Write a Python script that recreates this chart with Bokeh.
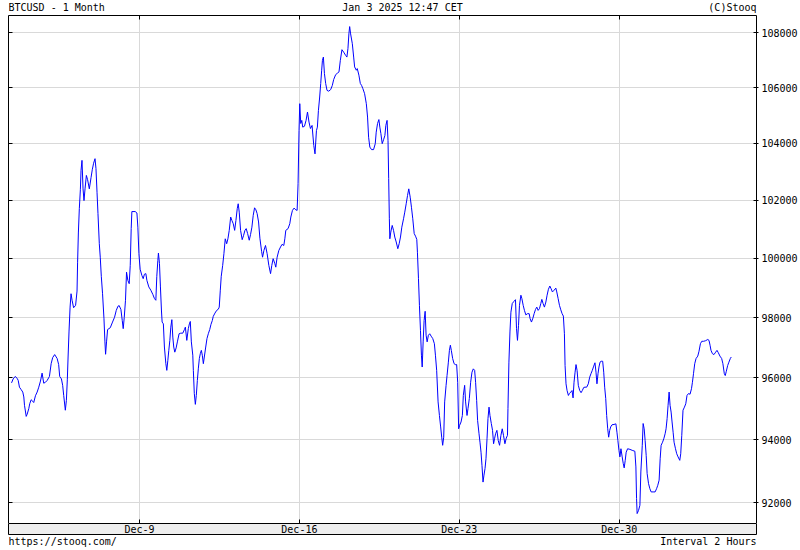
from bokeh.plotting import figure
from bokeh.layouts import column
from bokeh.core.properties import value
from bokeh.models import (Range1d, FixedTicker, LinearAxis, LogAxis, NumeralTickFormatter,
                          Label, LabelSet, ColumnDataSource)
from bokeh.embed import file_html
from bokeh.resources import INLINE

# ---------------- texts ----------------
symbol_title = "BTCUSD - 1 Month"
stamp = "Jan 3 2025 12:47 CET"
credit = "(C)Stooq"
source = "https://stooq.com/"
interval = "Interval 2 Hours"

# ---------------- ticks ----------------
tick_hours = [0, 168, 336, 504]          # hours since Dec 9 00:00
tick_labels = ["Dec-9", "Dec-16", "Dec-23", "Dec-30"]
price_ticks = [92000, 94000, 96000, 98000, 100000, 102000, 104000, 106000, 108000]

# ---------------- data (hours since Dec 9 00:00, BTCUSD) ----------------
hours = [
    -134.4, -132.7, -130.6, -128.5, -127.4, -126.1, -124.3, -122.6, -121.5, -120.8,
    -119.0, -118.0, -116.3, -115.3, -113.8, -112.1, -111.1, -109.3, -107.5, -105.8,
    -104.0, -102.3, -100.6, -98.8, -97.0, -94.6, -92.8, -91.2, -89.1, -86.5,
    -84.9, -83.8, -82.0, -80.7, -79.6, -77.9, -76.8, -75.8, -75.0, -74.0,
    -72.9, -71.9, -70.8, -69.2, -67.1, -65.6, -65.0, -64.2, -63.2, -62.1,
    -61.4, -60.4, -59.3, -58.3, -57.2, -55.8, -54.5, -52.7, -50.9, -49.6,
    -48.2, -46.7, -45.7, -44.6, -43.6, -42.2, -41.2, -40.1, -38.8, -37.3,
    -36.3, -35.6, -34.6, -33.5, -30.7, -28.3, -26.2, -24.4, -22.6, -21.3,
    -19.5, -18.1, -17.1, -16.0, -14.7, -13.6, -12.2, -10.8, -9.7, -8.7,
    -8.0, -4.5, -2.7, -1.7, -0.6, 0.7, 2.5, 3.9, 5.2, 6.7,
    7.8, 9.8, 11.9, 14.0, 15.7, 17.2, 18.2, 19.3, 19.9, 21.0,
    22.0, 23.1, 23.8, 25.1, 26.2, 27.7, 28.7, 29.8, 30.8, 31.9,
    32.9, 34.0, 35.0, 36.0, 37.1, 38.5, 39.8, 41.6, 43.4, 45.5,
    47.2, 48.2, 49.7, 51.3, 52.4, 53.4, 54.5, 56.0, 56.6, 57.6,
    58.7, 59.7, 60.8, 61.8, 62.9, 63.9, 65.0, 66.0, 67.1, 68.1,
    69.6, 70.9, 72.3, 73.8, 75.1, 76.5, 77.5, 79.3, 81.1, 82.8,
    83.8, 84.9, 85.9, 87.4, 88.7, 90.1, 91.6, 92.9, 94.3, 95.8,
    97.1, 98.5, 100.0, 101.3, 102.7, 103.7, 104.8, 106.2, 107.9, 109.4,
    110.8, 112.1, 113.6, 115.3, 116.7, 118.1, 119.5, 120.9, 122.3, 123.6,
    125.1, 126.5, 128.3, 129.3, 130.7, 132.4, 134.1, 135.9, 137.7, 139.0,
    140.4, 142.2, 143.2, 144.6, 146.4, 148.2, 149.8, 151.6, 152.7, 153.7,
    156.1, 157.9, 159.0, 160.7, 162.4, 164.2, 165.6, 166.6, 167.6, 168.4,
    169.4, 170.5, 171.5, 173.3, 175.0, 176.5, 178.1, 179.6, 181.3, 183.1,
    184.4, 185.9, 186.9, 188.0, 189.3, 190.4, 191.4, 192.2, 193.2, 194.3,
    195.6, 197.0, 198.8, 200.9, 202.6, 204.0, 206.1, 208.2, 209.6, 211.0,
    212.7, 214.5, 216.6, 217.9, 219.0, 220.0, 220.8, 221.8, 223.6, 225.0,
    226.0, 227.8, 228.8, 230.5, 232.0, 233.3, 234.7, 236.5, 238.3, 239.6,
    240.7, 242.0, 243.8, 245.9, 247.7, 248.7, 250.1, 251.5, 252.5, 253.6,
    255.0, 256.4, 257.8, 258.8, 260.1, 261.1, 261.8, 262.5, 263.0, 264.0,
    265.5, 266.9, 268.2, 269.7, 271.4, 272.8, 274.2, 275.6, 277.4, 278.7,
    280.2, 281.6, 282.9, 284.4, 285.7, 287.1, 288.6, 290.0, 291.3, 292.0,
    293.1, 294.1, 295.2, 296.2, 297.0, 298.0, 299.0, 300.1, 301.1, 302.2,
    303.5, 304.9, 306.4, 308.1, 309.8, 310.9, 312.2, 313.7, 315.1, 316.4,
    317.5, 318.5, 319.6, 320.6, 322.1, 323.1, 324.5, 325.6, 326.6, 327.6,
    329.0, 330.5, 331.8, 333.2, 334.3, 335.3, 336.3, 337.8, 339.2, 340.2,
    341.6, 342.6, 344.1, 345.1, 346.5, 347.9, 349.3, 350.7, 352.1, 353.1,
    354.2, 355.2, 356.7, 357.7, 358.8, 359.8, 360.9, 361.9, 363.0, 364.0,
    365.1, 366.1, 367.2, 368.2, 369.6, 370.9, 372.0, 373.0, 374.1, 375.5,
    376.9, 378.3, 379.7, 381.1, 382.4, 383.9, 385.3, 386.6, 387.1, 388.1,
    389.2, 390.2, 391.6, 393.3, 395.0, 396.1, 397.1, 398.2, 399.2, 400.7,
    401.7, 403.1, 404.4, 405.9, 407.6, 409.4, 410.4, 411.8, 413.3, 414.6,
    416.0, 417.4, 418.8, 420.2, 421.6, 422.7, 424.0, 425.4, 426.9, 428.2,
    429.6, 431.1, 432.4, 433.8, 435.6, 437.4, 438.4, 439.8, 441.2, 442.6,
    444.0, 445.3, 446.4, 447.1, 448.1, 449.2, 450.6, 451.6, 453.1, 454.4,
    455.5, 456.5, 457.6, 458.6, 459.7, 461.0, 462.5, 463.9, 465.2, 466.7,
    468.0, 469.8, 471.5, 473.0, 474.3, 475.7, 477.2, 478.5, 479.6, 480.6,
    481.7, 482.7, 483.8, 485.1, 486.6, 487.7, 488.7, 489.8, 490.8, 491.9,
    492.9, 494.0, 495.0, 496.4, 498.5, 500.5, 501.6, 502.6, 503.7, 504.7,
    505.8, 507.1, 508.2, 509.2, 510.3, 511.3, 512.8, 515.2, 517.6, 520.4,
    521.5, 522.2, 522.8, 524.3, 525.7, 526.7, 528.2, 529.1, 530.2, 531.2,
    532.3, 533.3, 534.8, 536.2, 537.5, 539.6, 541.7, 543.2, 544.5, 545.9,
    547.0, 548.0, 549.5, 550.8, 552.2, 553.2, 554.3, 555.3, 556.4, 557.4,
    558.5, 559.5, 560.6, 561.6, 563.1, 564.4, 565.8, 567.6, 568.6, 569.7,
    571.0, 572.5, 573.9, 575.2, 576.7, 578.4, 579.9, 580.9, 582.0, 583.3,
    584.7, 586.5, 587.8, 589.3, 590.7, 592.7, 594.8, 597.0, 598.3, 599.4,
    600.4, 601.9, 603.5, 605.3, 606.7, 608.1, 609.8, 611.6, 612.9, 614.4,
    615.4, 616.5, 617.9, 619.2, 620.7, 621.7,
]
prices = [
    95840, 95970, 96050, 95990, 95920, 95700, 95620, 95540, 95380, 95110,
    94750, 94820, 95000, 95160, 95290, 95240, 95200, 95420, 95540, 95700,
    95900, 96160, 95830, 95860, 95920, 96050, 96470, 96670, 96770, 96640,
    96440, 96050, 95970, 95760, 95430, 94950, 95270, 95940, 96690, 97550,
    98350, 98800, 98580, 98330, 98410, 98890, 99870, 100870, 101710, 102370,
    103050, 103400, 102400, 101990, 102400, 102870, 102720, 102400, 102790, 103070,
    103300, 103460, 103110, 102280, 101540, 100500, 100040, 99390, 98800, 97960,
    97190, 96780, 97190, 97600, 97660, 97850, 98010, 98240, 98380, 98400,
    98270, 97900, 97630, 98010, 98580, 99530, 99250, 99140, 99760, 101020,
    101610, 101610, 101560, 101070, 100160, 99630, 99420, 99310, 99460, 99480,
    99250, 99030, 98920, 98780, 98640, 98580, 99390, 99930, 100180, 99820,
    99030, 98220, 97850, 97790, 97020, 96470, 96250, 96580, 96910, 97240,
    97680, 97930, 97350, 97020, 96850, 96990, 97190, 97460, 97480, 97480,
    97600, 97680, 97240, 97630, 97790, 97870, 97190, 96750, 96250, 95490,
    95140, 95430, 95920, 96300, 96640, 96800, 96910, 96750, 96470, 96690,
    97020, 97300, 97460, 97600, 97770, 97900, 98040, 98150, 98240, 98280,
    98350, 98920, 99390, 99760, 100160, 100670, 100500, 100670, 100960, 101420,
    101300, 101190, 100960, 101300, 101710, 101880, 101590, 100960, 100640, 100790,
    100960, 101020, 100850, 100620, 100820, 101070, 101480, 101740, 101670, 101540,
    101250, 100690, 100240, 100040, 100270, 100440, 100160, 99760, 99480, 99760,
    99990, 99820, 99700, 100040, 100270, 100390, 100480, 100440, 100670, 100960,
    101020, 101190, 101420, 101650, 101730, 101670, 101650, 102580, 104460, 105420,
    104710, 104820, 104580, 104610, 104820, 105120, 104760, 104530, 104640, 103930,
    103630, 104460, 104580, 105180, 105660, 106150, 106630, 106990, 107110, 106510,
    106150, 105900, 105870, 105930, 106080, 106290, 106470, 106530, 106570, 106990,
    107380, 107290, 107170, 107110, 107420, 107960, 108230, 107960, 107600, 107110,
    106750, 106630, 106690, 106450, 106150, 106080, 105960, 105780, 105420, 104940,
    104220, 103870, 103780, 103780, 103990, 104400, 104710, 104850, 104580, 104350,
    103990, 104130, 104280, 104640, 104820, 104100, 102760, 101360, 100670, 100900,
    101130, 100960, 100730, 100560, 100330, 100500, 100730, 101070, 101360, 101590,
    101880, 102170, 102400, 102110, 101760, 101360, 100850, 100760, 100650, 100210,
    99310, 98410, 97570, 96750, 96360, 97190, 97900, 98210, 97410, 97190,
    97410, 97460, 97380, 97300, 97130, 96750, 96250, 95220, 94780, 94410,
    94080, 93820, 94080, 95220, 95760, 96080, 96520, 96910, 97080, 96910,
    96640, 96470, 96440, 96440, 95860, 94350, 94460, 94570, 94780, 95430,
    95760, 95220, 94780, 95000, 95330, 95860, 96190, 96300, 96250, 95860,
    95270, 94620, 94190, 93920, 93600, 93180, 92650, 92870, 93080, 93390,
    94030, 94680, 95050, 94780, 94520, 94300, 93870, 94030, 94190, 94300,
    93970, 93820, 94140, 94350, 94140, 93870, 94050, 94140, 95000, 96520,
    97520, 98180, 98470, 98540, 98600, 97630, 97240, 97740, 98410, 98750,
    98640, 98410, 98240, 98090, 98130, 98130, 97960, 97850, 97980, 98130,
    98270, 98350, 98240, 98300, 98470, 98610, 98470, 98350, 98520, 98750,
    98950, 99060, 98970, 98860, 98920, 98990, 98860, 98640, 98410, 98260,
    98130, 98050, 97460, 96410, 95810, 95590, 95430, 95490, 95540, 95590,
    95350, 95860, 96190, 96440, 96250, 95760, 95590, 95520, 95590, 95690,
    95700, 95700, 95810, 96030, 96140, 96250, 96390, 96500, 96190, 95810,
    96140, 96360, 96520, 96550, 96550, 96190, 95700, 95330, 94780, 94350,
    94080, 94300, 94410, 94480, 94490, 94510, 94240, 93970, 93660, 93450,
    93710, 93450, 93240, 93100, 93340, 93600, 93710, 93690, 93660, 93630,
    93130, 92130, 91660, 91760, 91920, 92970, 93820, 94520, 94350, 93970,
    93500, 92920, 92600, 92440, 92340, 92340, 92340, 92440, 92550, 92710,
    93390, 93820, 93920, 94030, 94190, 94350, 94680, 95110, 95540, 95110,
    94890, 94570, 94240, 93920, 93710, 93550, 93450, 93340, 93550, 94140,
    94950, 95050, 95160, 95430, 95490, 95470, 95650, 95860, 96140, 96470,
    96640, 96720, 96880, 97130, 97210, 97210, 97230, 97270, 97240, 97080,
    96910, 96800, 96770, 96850, 96910, 96830, 96720, 96640, 96470, 96140,
    96080, 96220, 96410, 96520, 96640, 96690,
]

# ---------------- styling ----------------
FONT = "DejaVu Sans Mono"
FS = "10px"
W = 800
HEAD_H, MAIN_H, BAND_H, TAIL_H = 15, 508, 12, 15
LB, RB = 8, 42
FW = W - LB - RB
GRID = "#d9d9d9"
BAND = "#eeeeee"


def strip(h, x_range, fill="white", outline=None):
    f = figure(width=W, height=h, x_range=x_range, y_range=Range1d(0, 1),
               x_axis_location=None, y_axis_location=None,
               output_backend="svg", toolbar_location=None,
               min_border_left=LB, min_border_right=RB,
               min_border_top=0, min_border_bottom=0)
    f.title.visible = False
    f.grid.visible = False
    f.background_fill_color = fill
    f.border_fill_color = "white"
    f.outline_line_color = outline
    return f


def lab(f, x, y, text, align):
    f.add_layout(Label(x=x, y=y, x_units="screen", y_units="screen", text=text,
                       text_font=FONT, text_font_size=FS, text_color="black",
                       text_align=align, text_baseline="alphabetic"))


# ---------------- header ----------------
head = strip(HEAD_H, Range1d(0, 1))
lab(head, 0, 8, symbol_title, "left")
lab(head, 394, 8, stamp, "center")
lab(head, FW - 2, 8, credit, "right")

# ---------------- main chart ----------------
p = figure(width=W, height=MAIN_H, y_axis_type="log", y_axis_location="right",
           x_range=Range1d(-137.6, 648.2), y_range=Range1d(91350, 108640),
           output_backend="svg", toolbar_location=None,
           min_border_left=LB, min_border_right=RB,
           min_border_top=0, min_border_bottom=0)
p.title.visible = False
p.background_fill_color = "white"
p.border_fill_color = "white"
p.outline_line_color = None   # frame drawn by the axis lines (bottom edge by the band)

xt = FixedTicker(ticks=tick_hours)
yt = FixedTicker(ticks=price_ticks)

xa = p.xaxis[0]
xa.ticker = xt
xa.major_label_overrides = {t: "" for t in tick_hours}
xa.major_label_text_font_size = "0px"
xa.major_tick_in = 4
xa.major_tick_out = 0
xa.major_label_standoff = 0
xa.minor_tick_line_color = None
xa.axis_line_color = None
xa.major_tick_line_color = "black"

ya = p.yaxis[0]
ya.ticker = yt
ya.formatter = NumeralTickFormatter(format="0")
ya.major_tick_in = 3
ya.major_tick_out = 2
ya.major_label_standoff = 3
ya.minor_tick_line_color = None
ya.axis_line_color = "black"
ya.major_tick_line_color = "black"
ya.major_label_text_font = FONT
ya.major_label_text_font_size = FS
ya.major_label_text_color = "black"

p.xgrid[0].grid_line_color = GRID
p.ygrid[0].grid_line_color = GRID

top_ax = LinearAxis(ticker=xt, major_tick_in=4, major_tick_out=0, major_label_standoff=0,
                    major_label_text_font_size="0px",
                    major_label_overrides={t: "" for t in tick_hours},
                    minor_tick_line_color=None, axis_line_color="black")
p.add_layout(top_ax, "above")
left_ax = LogAxis(ticker=yt, major_tick_in=4, major_tick_out=0, major_label_standoff=0,
                  major_label_text_font_size="0px",
                  major_label_overrides={t: "" for t in price_ticks},
                  minor_tick_line_color=None, axis_line_color="black")
p.add_layout(left_ax, "left")

p.line(hours, prices, line_color="#0000ff", line_width=1)

# ---------------- grey date band ----------------
band = strip(BAND_H, p.x_range, fill=BAND, outline="black")
tick_src = ColumnDataSource(dict(x=tick_hours, text=tick_labels))
band.add_layout(LabelSet(x="x", y=3, y_units="screen", text="text",
                         source=tick_src, text_align="center", text_baseline="alphabetic",
                         text_font=value(FONT), text_font_size=value(FS),
                         text_color="black"))

# ---------------- source line ----------------
tail = strip(TAIL_H, Range1d(0, 1))
lab(tail, 0, 9, source, "left")
lab(tail, FW - 2, 9, interval, "right")

layout = column(head, p, band, tail, spacing=0)
open("out.html", "w").write(file_html(layout, INLINE))
